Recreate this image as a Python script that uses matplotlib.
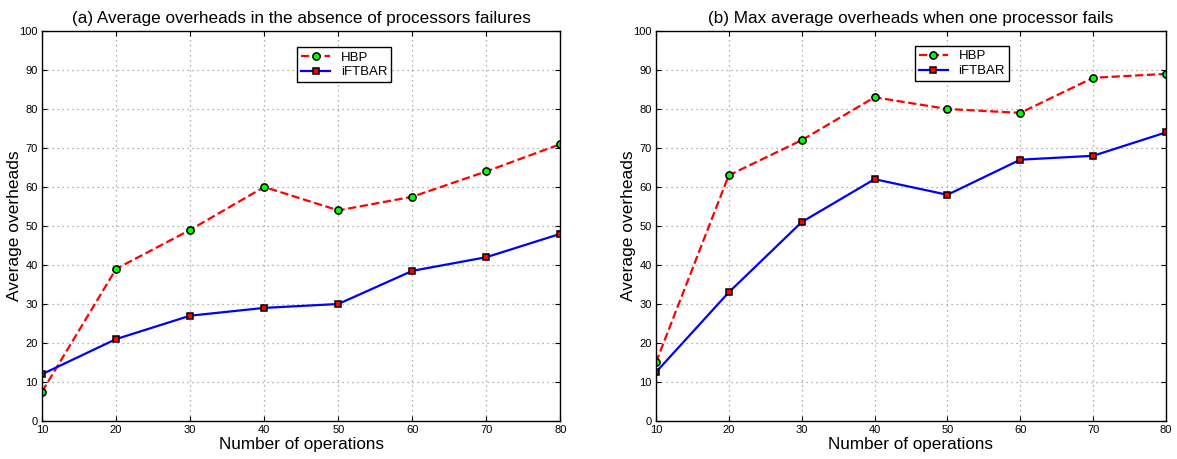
import matplotlib
matplotlib.use("Agg")
import matplotlib.pyplot as plt

plt.rcParams['font.family'] = ['Liberation Sans', 'DejaVu Sans']

ops = [10, 20, 30, 40, 50, 60, 70, 80]
hbp_a = [7.5, 39, 49, 60, 54, 57.5, 64, 71]
ift_a = [12, 21, 27, 29, 30, 38.5, 42, 48]
hbp_b = [15, 63, 72, 83, 80, 79, 88, 89]
ift_b = [12.5, 33, 51, 62, 58, 67, 68, 74]
titles = ["(a) Average overheads in the absence of processors failures",
          "(b) Max average overheads when one processor fails"]

fig = plt.figure(figsize=(11.77, 4.59), dpi=100)
ax1 = fig.add_axes([0.0357, 0.0828, 0.4405, 0.8497])
ax2 = fig.add_axes([0.5573, 0.0828, 0.4334, 0.8497])

for ax, hbp, ift, title, legpos in [(ax1, hbp_a, ift_a, titles[0], (0.583, 0.975)),
                                    (ax2, hbp_b, ift_b, titles[1], (0.6, 0.978))]:
    ax.plot(ops, hbp, '--', color='red', lw=1.6, marker='o', ms=5.2,
            mfc='#00ff00', mec='black', mew=1.1, label='HBP')
    ax.plot(ops, ift, '-', color='blue', lw=1.6, marker='s', ms=4.6,
            mfc='red', mec='black', mew=1.1, label='iFTBAR')
    ax.set_xlim(10, 80)
    ax.set_ylim(0, 100)
    ax.set_xticks(ops)
    ax.set_yticks(range(0, 101, 10))
    ax.tick_params(direction='in', labelsize=8, top=True, right=True, pad=3)
    ax.grid(True, linestyle=(0, (1, 3)), color='#999999', lw=0.9)
    ax.set_title(title, fontsize=12.3, pad=6)
    ax.set_xlabel("Number of operations", fontsize=12.3, labelpad=1)
    ax.set_ylabel("Average overheads", fontsize=12.5, labelpad=-2)
    leg = ax.legend(loc='upper center', bbox_to_anchor=legpos, fontsize=9.5,
                    fancybox=False, edgecolor='black', framealpha=1,
                    handlelength=2.2, borderpad=0.3, labelspacing=0.2)
    leg.get_frame().set_linewidth(1.0)
    for s in ax.spines.values():
        s.set_linewidth(1.0)

fig.savefig("out.png", dpi=100)
